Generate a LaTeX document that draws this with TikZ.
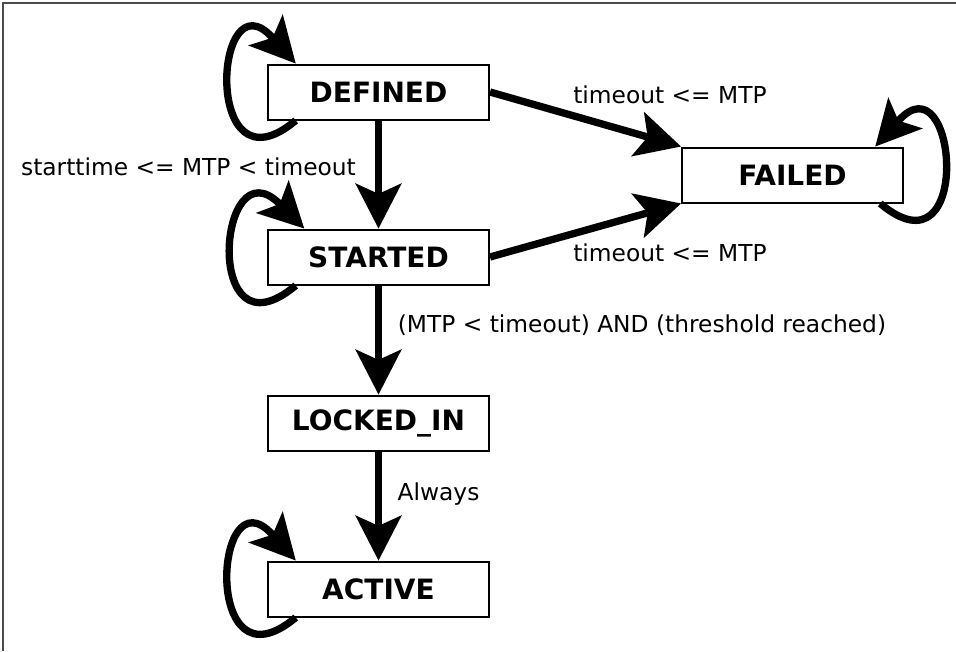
\documentclass[tikz,border=0pt]{standalone}
\usepackage{fontspec}
\setmainfont{DejaVu Sans}
\usetikzlibrary{arrows.meta,positioning}

\begin{document}
\begin{tikzpicture}[x=0.75pt,y=-0.75pt,
 state/.style={draw,line width=1.5pt,minimum width=165.75pt,minimum height=41.25pt,inner sep=0pt,fill=white,font=\fontsize{21}{25}\selectfont\bfseries},
 lab/.style={font=\fontsize{17.5}{21}\selectfont,inner sep=0pt,anchor=base},
 trans/.style={line width=5.5pt,-{Stealth[length=34pt,width=35pt,inset=8pt,line width=0pt]}},
 selfloop/.style={trans,distance=92pt}]
\useasboundingbox (0,0) rectangle (956,651);
\draw[gray!60!black,line width=1.5pt] (956,3) -| (3,651);
\node[state] (defined) at (378.5,92) {DEFINED};
\node[state] (started) at (378.5,257) {STARTED};
\node[state] (locked) at (378.5,423) {LOCKED\_IN};
\node[state] (active) at (378.5,589) {ACTIVE};
\node[state] (failed) at (792.5,175) {FAILED};
\node[lab] (lfail1) at (670,103) {timeout <= MTP};
\node[lab] (lstart) at (188.5,175) {starttime <= MTP < timeout};
\node[lab] (lfail2) at (670,261.5) {timeout <= MTP};
\node[lab] (llock) at (642,332) {(MTP < timeout) AND (threshold reached)};
\node[lab] (lactive) at (438.5,500) {Always};
\draw[trans] (defined) -- (started);
\draw[trans] (started) -- (locked);
\draw[trans] (locked) -- (active);
\draw[trans] (defined.east) -- (failed.north west);
\draw[trans] (started.east) -- (failed.south west);
\draw[selfloop] (defined.199) to[out=220,in=132] (defined.161);
\draw[selfloop] (started.199) to[out=220,in=135] (started.159);
\draw[selfloop] (active.199) to[out=220,in=132] (active.161);
\draw[selfloop] (failed.342) to[out=320,in=48] (failed.19);
\end{tikzpicture}
\end{document}
